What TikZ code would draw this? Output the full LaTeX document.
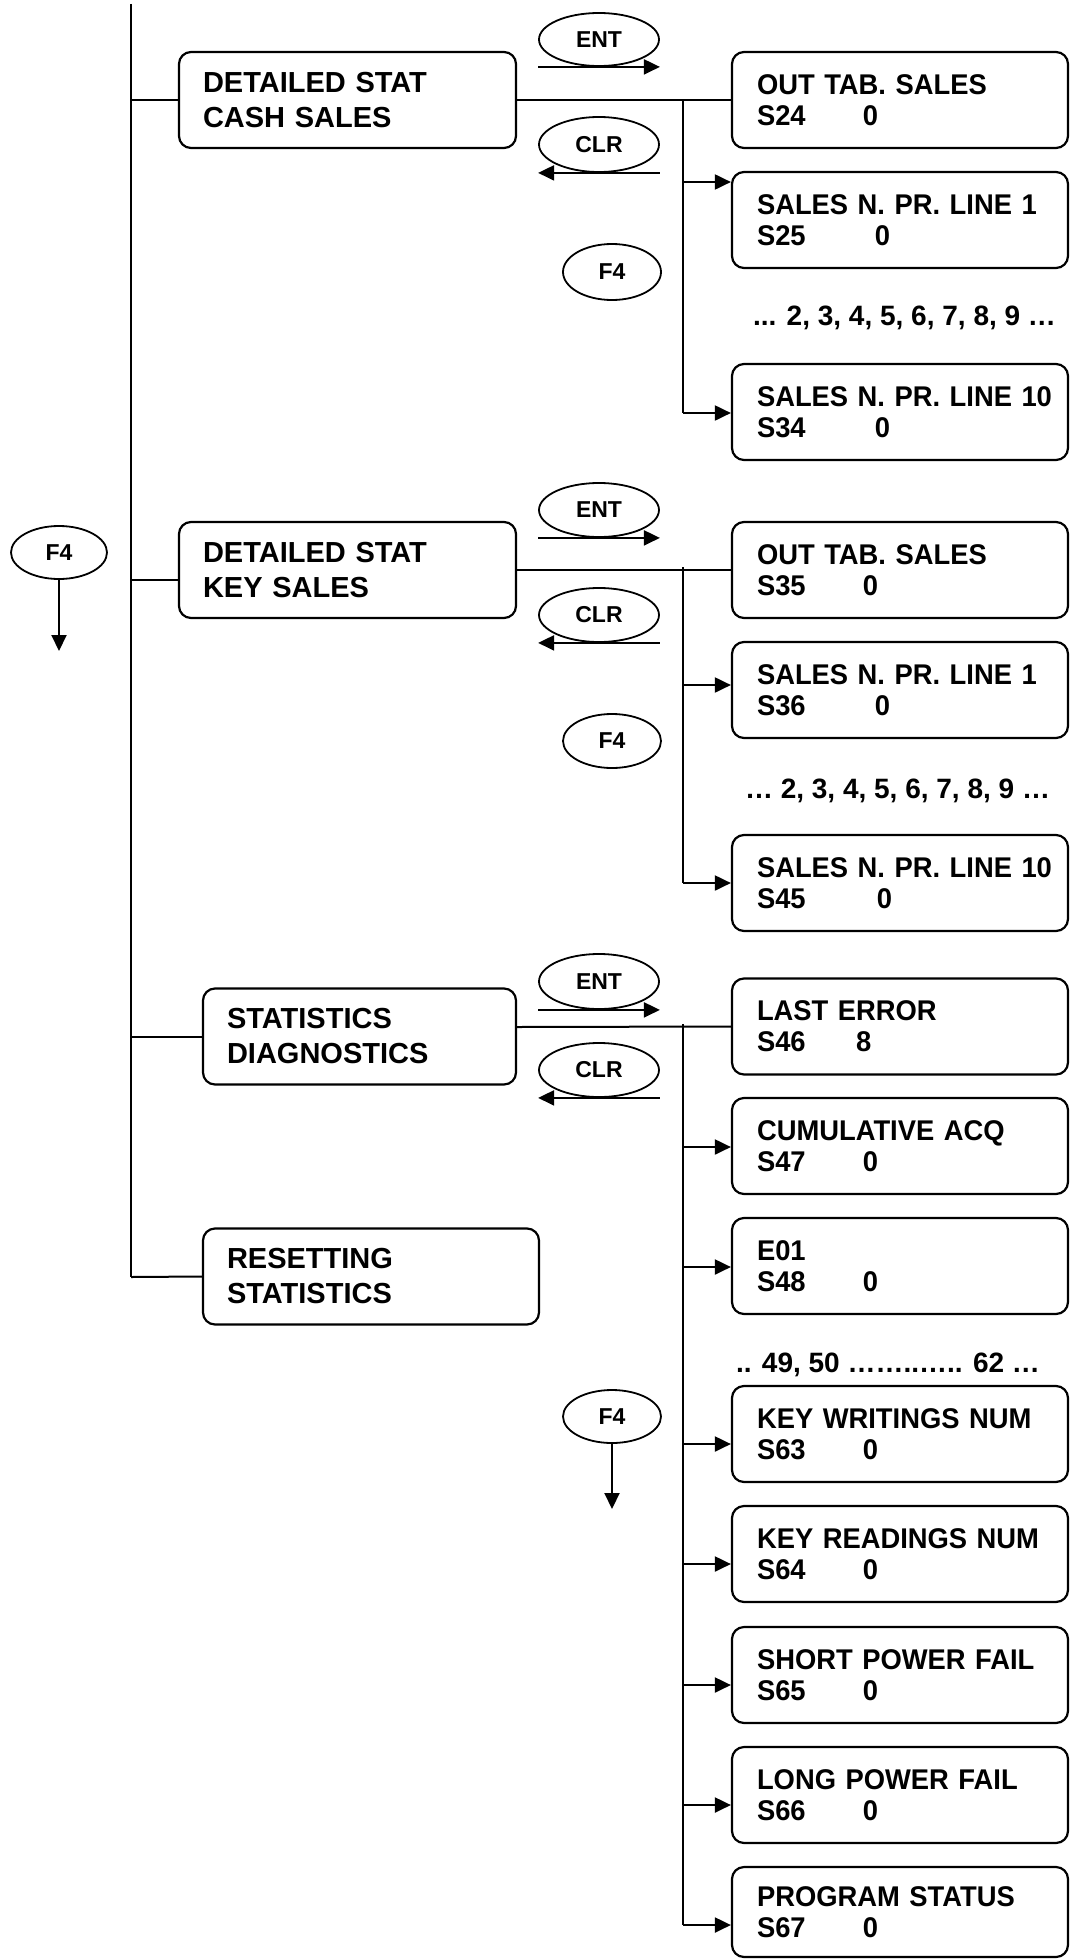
\documentclass[tikz,border=0pt]{standalone}
\usepackage{fontspec}
\setmainfont{Liberation Sans}
\newfontfamily\rfont{Liberation Sans}[FakeStretch=0.96]
\usetikzlibrary{arrows.meta,shapes.geometric}
\newcommand{\sv}[3]{\makebox[#1][l]{#2}#3}
\begin{document}
\begin{tikzpicture}[x=0.5pt,y=-0.5pt,
  line width=1pt,
  lbox/.style={draw, line width=1.1pt, rounded corners=6pt, minimum height=48pt, inner ysep=0pt, inner xsep=12pt, align=left, font=\bfseries\fontsize{14.5pt}{17.5pt}\selectfont},
  rbox/.style={draw, line width=1.1pt, rounded corners=6pt, minimum height=48pt, inner ysep=0pt, inner xsep=12.5pt, text width=143pt, align=left, font=\rfont\bfseries\fontsize{14.25pt}{15.5pt}\selectfont},
  key/.style={draw, ellipse, line width=0.9pt, inner sep=0pt, minimum width=60pt, minimum height=26.5pt, font=\bfseries\fontsize{11.5pt}{13pt}\selectfont},
  fkey/.style={key, minimum width=49pt, minimum height=27pt},
  arr/.style={-{Triangle[length=8pt,width=7.5pt]}},
  dotline/.style={anchor=base west, inner sep=0pt, font=\bfseries\fontsize{14pt}{16pt}\selectfont}
]
\useasboundingbox (0,0) rectangle (1072,1959);

% ---------- left column ----------
\node[fkey, minimum width=48pt, minimum height=26.5pt] (lf4) at (59,552.5) {F4};
\coordinate (lf4end) at (59,651);
\draw[arr] (lf4.south) -- (lf4end);

\coordinate (mtop) at (131,4);
\coordinate (mbot) at (131,1277);
\draw (mtop) -- (mbot);

% ---------- section 1 ----------
\node[lbox, text width=144.5pt] (b1) at (347.5,100) {DETAILED STAT\\CASH SALES};
\coordinate (m1) at (131,100);
\draw (m1) -- (m1 -| b1.west);

\node[key] (ent1) at (599,39.5) {ENT};
\draw[arr] (ent1.west |- ent1.south) -- (ent1.east |- ent1.south);
\node[key, minimum height=27.5pt] (clr1) at (599,144.5) {CLR};
\draw[arr] (clr1.east |- clr1.south) -- (clr1.west |- clr1.south);
\node[fkey, minimum height=28pt] (f41) at (612,272) {F4};

\node[rbox] (r11) at (900,100) {OUT TAB. SALES\\\sv{53pt}{S24}{0}};
\node[rbox] (r12) at (900,220) {SALES N. PR. LINE 1\\\sv{59pt}{S25}{0}};
\node[dotline] (d1) at (752,325) {... 2, 3, 4, 5, 6, 7, 8, 9 …};
\node[rbox] (r13) at (900,412) {\mbox{SALES N. PR. LINE 10}\\\sv{59pt}{S34}{0}};

\draw (b1.east) -- (r11.west);
\coordinate (v1top) at (683,100);
\coordinate (a12) at (683,182);
\coordinate (a13) at (683,413);
\draw (v1top) -- (a13);
\draw[arr] (a12) -- (a12 -| r12.west);
\draw[arr] (a13) -- (a13 -| r13.west);

% ---------- section 2 ----------
\node[lbox, text width=144.5pt] (b2) at (347.5,570) {DETAILED STAT\\KEY SALES};
\coordinate (m2) at (131,580);
\draw (m2) -- (m2 -| b2.west);

\node[key, minimum height=27pt] (ent2) at (599,510) {ENT};
\draw[arr] (ent2.west |- ent2.south) -- (ent2.east |- ent2.south);
\node[key, minimum height=27pt] (clr2) at (599,615) {CLR};
\draw[arr] (clr2.east |- clr2.south) -- (clr2.west |- clr2.south);
\node[fkey] (f42) at (612,741) {F4};

\node[rbox] (r21) at (900,570) {OUT TAB. SALES\\\sv{53pt}{S35}{0}};
\node[rbox] (r22) at (900,690) {SALES N. PR. LINE 1\\\sv{59pt}{S36}{0}};
\node[dotline] (d2) at (744,798) {… 2, 3, 4, 5, 6, 7, 8, 9 …};
\node[rbox] (r23) at (900,883) {\mbox{SALES N. PR. LINE 10}\\\sv{60pt}{S45}{0}};

\draw (b2.east) -- (r21.west);
\coordinate (v2top) at (683,567);
\coordinate (a22) at (683,685);
\coordinate (a23) at (683,883);
\draw (v2top) -- (a23);
\draw[arr] (a22) -- (a22 -| r22.west);
\draw[arr] (a23) -- (a23 -| r23.west);

% ---------- section 3 ----------
\node[lbox, text width=132.5pt] (b3) at (359.5,1036.5) {STATISTICS\\DIAGNOSTICS};
\coordinate (m3) at (131,1037);
\draw (m3) -- (m3 -| b3.west);

\node[lbox, text width=144pt] (b4) at (371,1276.5) {RESETTING\\STATISTICS};
\draw (mbot) -- (b4.west);

\node[key, minimum height=27.5pt] (ent3) at (599,981.5) {ENT};
\draw[arr] (ent3.west |- ent3.south) -- (ent3.east |- ent3.south);
\node[key, minimum height=27pt] (clr3) at (599,1070) {CLR};
\draw[arr] (clr3.east |- clr3.south) -- (clr3.west |- clr3.south);
\node[fkey, minimum height=26.5pt] (f43) at (612,1416.5) {F4};
\coordinate (f43end) at (612,1509);
\draw[arr] (f43.south) -- (f43end);

\node[rbox] (r31) at (900,1026.5) {LAST ERROR\\\sv{49.5pt}{S46}{8}};
\node[rbox] (r32) at (900,1146) {CUMULATIVE ACQ\\\sv{53pt}{S47}{0}};
\node[rbox] (r33) at (900,1266) {E01\\\sv{53pt}{S48}{0}};
\node[dotline] (d3) at (735,1372) {.. 49, 50 ……..….. 62 …};
\node[rbox] (r34) at (900,1434) {KEY WRITINGS NUM\\\sv{53pt}{S63}{0}};
\node[rbox] (r35) at (900,1554) {KEY READINGS NUM\\\sv{53pt}{S64}{0}};
\node[rbox] (r36) at (900,1675) {SHORT POWER FAIL\\\sv{53pt}{S65}{0}};
\node[rbox] (r37) at (900,1795) {LONG POWER FAIL\\\sv{53pt}{S66}{0}};
\node[rbox, minimum height=45pt] (r38) at (900,1912) {PROGRAM STATUS\\\sv{53pt}{S67}{0}};

\draw (b3.east |- 0,1027) -- (r31.west);
\coordinate (v3top) at (683,1024);
\coordinate (a32) at (683,1147);
\coordinate (a33) at (683,1267);
\coordinate (a34) at (683,1444);
\coordinate (a35) at (683,1564);
\coordinate (a36) at (683,1685);
\coordinate (a37) at (683,1805);
\coordinate (a38) at (683,1925);
\draw (v3top) -- (a38);
\foreach \a/\r in {a32/r32,a33/r33,a34/r34,a35/r35,a36/r36,a37/r37,a38/r38}
  \draw[arr] (\a) -- (\a -| \r.west);
\end{tikzpicture}
\end{document}
